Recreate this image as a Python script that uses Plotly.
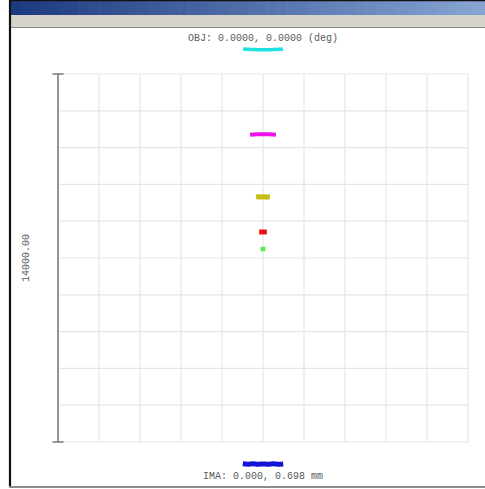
import plotly.graph_objects as go

# Spot diagram: ray intercepts per field, in micrometres relative to the
# chief-ray reference point.  Each field is listed as a short run of ray
# intercepts (x offsets, y offsets) around its vertical centre.
field_names = ["Field 1", "Field 2", "Field 3", "Field 4", "Field 5", "Field 6"]
field_colors = ["#1fe0e0", "#ee11ee", "#c6bd10", "#ee1111", "#55ee55", "#1414d6"]
field_centres_y = [7930, 4700, 2320, 990, 340, -7840]

rays_x = [
    [-680, -520, -340, -170, 0, 170, 340, 520, 680],
    [-440, -330, -220, -110, 0, 110, 220, 330, 440],
    [-235, -170, -110, -55, 0, 55, 110, 170, 235],
    [-130, -65, 0, 65, 130],
    [-80, -40, 0, 40, 80],
    [-690, -520, -350, -170, 0, 170, 350, 520, 690],
]
rays_y = [
    [25, 12, 0, -8, -10, -8, 0, 8, 15],
    [-10, 0, 8, 10, 10, 10, 8, 0, -10],
    [0, 6, -4, 6, 0, 6, -4, 4, 0],
    [0, 0, 0, 0, 0],
    [0, 0, 0, 0, 0],
    [10, -6, 10, -8, 6, -8, 10, -6, 5],
]
line_widths = [3.5, 4, 5, 5, 4.5, 5]

scale_size = 14000.0          # box size, micrometres
n_div = 10
obj_label = "OBJ: 0.0000, 0.0000 (deg)"
ima_label = "IMA: 0.000, 0.698 mm"
scale_label = "14000.00"

# ---- page geometry (pixels) ----
W, H = 485, 489
BOX_L, BOX_R, BOX_T, BOX_B = 58, 468, 74, 442
cx_px = (BOX_L + BOX_R) / 2
cy_px = (BOX_T + BOX_B) / 2
ux = scale_size / (BOX_R - BOX_L)   # um per pixel horizontally
uy = scale_size / (BOX_B - BOX_T)   # um per pixel vertically
x_range = [(0 - cx_px) * ux, (W - cx_px) * ux]
y_range = [(cy_px - H) * uy, (cy_px - 0) * uy]
half = scale_size / 2
step = scale_size / n_div

fig = go.Figure()

for name, col, yc, xs, ys, lw in zip(field_names, field_colors, field_centres_y,
                                     rays_x, rays_y, line_widths):
    fig.add_trace(go.Scatter(
        x=xs, y=[yc + d for d in ys], mode="lines",
        line=dict(color=col, width=lw, shape="spline"),
        name=name, hoverinfo="skip", showlegend=False,
    ))

shapes = []
# grid
grid_col = "#e6e6e6"
for i in range(n_div + 1):
    v = -half + i * step
    shapes.append(dict(type="line", xref="x", yref="y", x0=v, x1=v, y0=-half, y1=half,
                       line=dict(color=grid_col, width=1.2), layer="below"))
    shapes.append(dict(type="line", xref="x", yref="y", x0=-half, x1=half, y0=v, y1=v,
                       line=dict(color=grid_col, width=1.2), layer="below"))
# scale bar with end caps
bar_col = "#7a7a7a"
cap = 5.5 * ux
shapes.append(dict(type="line", xref="x", yref="y", x0=-half, x1=-half, y0=-half, y1=half,
                   line=dict(color=bar_col, width=1.5)))
for yv in (-half, half):
    shapes.append(dict(type="line", xref="x", yref="y", x0=-half - cap, x1=-half + cap,
                       y0=yv, y1=yv, line=dict(color=bar_col, width=1.5)))

# window chrome: title bar gradient, toolbar band, frame edges
def px_x(p):
    return p / W

def px_y(p):
    return 1 - p / H

c0 = (0x1c, 0x3a, 0x80)
c1 = (0x86, 0xa3, 0xd2)
n_strip = 48
x_start = 10
for k in range(n_strip):
    t = k / (n_strip - 1)
    r, g, b = (round(a + (bb - a) * t) for a, bb in zip(c0, c1))
    xa = x_start + (W - x_start) * k / n_strip
    xb = x_start + (W - x_start) * (k + 1) / n_strip + 0.6
    shapes.append(dict(type="rect", xref="paper", yref="paper",
                       x0=px_x(xa), x1=px_x(xb), y0=px_y(15), y1=px_y(0),
                       fillcolor=f"rgb({r},{g},{b})", line=dict(width=0)))
shapes.append(dict(type="line", xref="paper", yref="paper", x0=px_x(x_start), x1=1,
                   y0=px_y(0.5), y1=px_y(0.5), line=dict(color="#111111", width=1.5)))
shapes.append(dict(type="rect", xref="paper", yref="paper",
                   x0=px_x(x_start), x1=1, y0=px_y(27), y1=px_y(15),
                   fillcolor="#d6d3cc", line=dict(width=0)))
shapes.append(dict(type="line", xref="paper", yref="paper", x0=px_x(x_start), x1=1,
                   y0=px_y(27.5), y1=px_y(27.5), line=dict(color="#8a8a8a", width=1.2)))
shapes.append(dict(type="line", xref="paper", yref="paper", x0=px_x(10), x1=px_x(10),
                   y0=px_y(487), y1=px_y(0), line=dict(color="#111111", width=2.2)))
shapes.append(dict(type="line", xref="paper", yref="paper", x0=px_x(9), x1=1,
                   y0=px_y(487), y1=px_y(487), line=dict(color="#8c8c8c", width=2)))

font = dict(family="Liberation Mono, Courier New, monospace", size=10, color="#5a5a5a")
annotations = [
    dict(text=obj_label, xref="x", yref="paper", x=0, y=px_y(38), showarrow=False,
         font=font, xanchor="center", yanchor="middle"),
    dict(text=ima_label, xref="x", yref="paper", x=0, y=px_y(476), showarrow=False,
         font=font, xanchor="center", yanchor="middle"),
    dict(text=scale_label, xref="paper", yref="y", x=px_x(26), y=0, showarrow=False,
         font=font, textangle=-90, xanchor="center", yanchor="middle"),
]

fig.update_layout(
    width=W, height=H,
    margin=dict(l=0, r=0, t=0, b=0),
    paper_bgcolor="white", plot_bgcolor="white",
    xaxis=dict(range=x_range, visible=False, fixedrange=True),
    yaxis=dict(range=y_range, visible=False, fixedrange=True),
    shapes=shapes, annotations=annotations, showlegend=False,
)

fig.write_html("out.html")
